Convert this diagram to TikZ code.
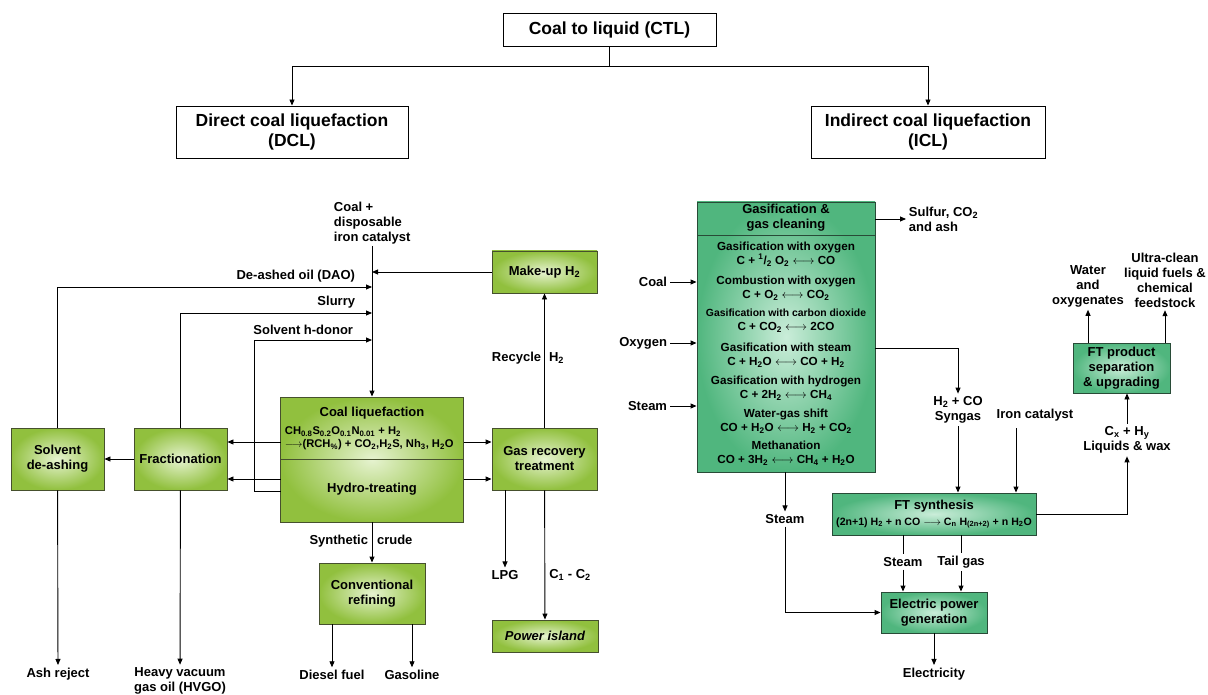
\documentclass[tikz,border=0pt]{standalone}
\usepackage{fontspec}
\setmainfont{Liberation Sans}
\usetikzlibrary{arrows.meta}
\definecolor{dclout}{RGB}{145,192,62}
\definecolor{dclin}{RGB}{230,243,208}
\definecolor{dcldraw}{RGB}{70,80,45}
\definecolor{iclout}{RGB}{80,182,126}
\definecolor{iclin}{RGB}{202,237,217}
\definecolor{icldraw}{RGB}{40,75,55}
\begin{document}
\begin{tikzpicture}[x=1pt,y=-1pt,>={Triangle[length=6pt,width=5pt]},line width=.9pt,
every node/.style={font=\bfseries\fontsize{13}{15}\selectfont,inner sep=2.5pt},
tb/.style={draw,fill=white,align=center,font=\bfseries\fontsize{17.5}{20}\selectfont},
db/.style={draw=dcldraw,shading=radial,inner color=dclin,outer color=dclout,align=center},
ib/.style={draw=icldraw,shading=radial,inner color=iclin,outer color=iclout,align=center},
eq/.style={align=center,font=\bfseries\fontsize{11.7}{14}\selectfont}]
\useasboundingbox (0,0) rectangle (1208,695);
% top level
\node[tb,minimum width=213pt,minimum height=33pt] (ctl) at (609.5,29.5) {Coal to liquid (CTL)};
\node[tb,minimum width=232pt,minimum height=52pt] (dcl) at (292,132) {Direct coal liquefaction\\(DCL)};
\node[tb,minimum width=234pt,minimum height=52pt] (icl) at (928,132) {Indirect coal liquefaction\\(ICL)};
\coordinate (fork) at (609.5,66);
\draw (ctl)--(fork);
\draw[->] (fork)-|(dcl.north);
\draw[->] (fork)-|(icl.north);
% direct liquefaction
\node[anchor=north west,align=left] (coal) at (331,199) {Coal +\\disposable\\iron catalyst};
\node[db,minimum width=183pt,minimum height=125pt] (liq) at (372,459.5) {};
\draw[dcldraw] (liq.west)--(liq.east);
\node (liqt) at (372,413) {Coal liquefaction};
\node[anchor=west,align=left,font=\bfseries\fontsize{11.2}{13}\selectfont] (liqeq) at (282,438.5) {CH\textsubscript{0.8}S\textsubscript{0.2}O\textsubscript{0.1}N\textsubscript{0.01} + H\textsubscript{2}\\$\longrightarrow$(RCH\textsubscript{\%}) + CO\textsubscript{2},H\textsubscript{2}S, Nh\textsubscript{3}, H\textsubscript{2}O};
\node (hydro) at (372,489) {Hydro-treating};
\node[db,minimum width=105pt,minimum height=42pt] (makeup) at (544.5,272) {Make-up H\textsubscript{2}};
\node[db,minimum width=93pt,minimum height=62pt] (sda) at (57.5,459) {Solvent\\de-ashing};
\node[db,minimum width=93pt,minimum height=62pt] (frac) at (180.5,459) {Fractionation};
\node[db,minimum width=105pt,minimum height=62pt] (gasrec) at (544.5,459) {Gas recovery\\treatment};
\node[db,minimum width=106pt,minimum height=61pt] (conv) at (372,593.5) {Conventional\\refining};
\node[db,minimum width=106pt,minimum height=32pt,font=\bfseries\itshape\fontsize{13}{15}\selectfont] (power) at (545,636) {Power island};
\node[anchor=east] (daot) at (358,276) {De-ashed oil (DAO)};
\node[anchor=east] (slurryt) at (358,302) {Slurry};
\node[anchor=east] (donort) at (356,330) {Solvent h-donor};
\node (recyt) at (528,358) {Recycle\hspace{8pt}H\textsubscript{2}};
\node (crudet) at (361,541) {Synthetic\hspace{9pt}crude};
\node (lpg) at (505,575) {LPG};
\node (c12) at (570,575) {C\textsubscript{1} - C\textsubscript{2}};
\node (ash) at (58,674) {Ash reject};
\node[align=center] (hvgo) at (180,681) {Heavy vacuum\\gas oil (HVGO)};
\node (diesel) at (332,675) {Diesel fuel};
\node (gasoline) at (412,675) {Gasoline};
\coordinate (feed) at (372,246);
\coordinate (dao) at (372,287);
\coordinate (slurry) at (372,313);
\coordinate (donor) at (372,340);
\coordinate (lo1) at (280.5,442);
\coordinate (lo2) at (280.5,479);
\coordinate (lo3) at (280.5,491);
\coordinate (ro1) at (463.5,442);
\coordinate (ro2) at (463.5,479);
\draw[->] (feed)--(liq);
\draw[->] (makeup)--(makeup-|feed);
\draw[->] (sda.north)|-(dao);
\draw[->] (frac.north)|-(slurry);
\draw[->] (lo3)-|(254,340)--(donor);
\draw[->] (lo1)--(lo1-|frac.east);
\draw[->] (lo2)--(lo2-|frac.east);
\draw[->] (frac)--(sda);
\draw[->] (ro1)--(ro1-|gasrec.west);
\draw[->] (ro2)--(ro2-|gasrec.west);
\draw[->] (gasrec)--(makeup);
\draw[->] (lpg|-gasrec.south)--(lpg);
\draw[->] (gasrec)--(power);
\draw[->] (liq)--(conv);
\draw[->] (sda)--(ash);
\draw[->] (frac)--(hvgo);
\draw[->] (diesel|-conv.south)--(diesel);
\draw[->] (gasoline|-conv.south)--(gasoline);
% indirect liquefaction
\node[ib,minimum width=178pt,minimum height=270pt] (gas) at (786,337) {};
\draw[icldraw] (697,235)--(875,235);
\node[align=center] (gast) at (786,218) {Gasification \&\\gas cleaning};
\node[eq] (g1) at (786,254) {Gasification with oxygen\\C + \textsuperscript{1}/\textsubscript{2} O\textsubscript{2} $\longleftrightarrow$ CO};
\node[eq] (g2) at (786,288) {Combustion with oxygen\\C + O\textsubscript{2} $\longleftrightarrow$ CO\textsubscript{2}};
\node[eq] (g3) at (786,321) {{\fontsize{10.4}{14}\selectfont Gasification with carbon dioxide}\\C + CO\textsubscript{2} $\longleftrightarrow$ 2CO};
\node[eq] (g4) at (786,355.5) {Gasification with steam\\C + H\textsubscript{2}O $\longleftrightarrow$ CO + H\textsubscript{2}};
\node[eq] (g5) at (786,388.5) {Gasification with hydrogen\\C + 2H\textsubscript{2} $\longleftrightarrow$ CH\textsubscript{4}};
\node[eq] (g6) at (786,421.5) {Water-gas shift\\CO + H\textsubscript{2}O $\longleftrightarrow$ H\textsubscript{2} + CO\textsubscript{2}};
\node[eq] (g7) at (786,453.5) {Methanation\\CO + 3H\textsubscript{2} $\longleftrightarrow$ CH\textsubscript{4} + H\textsubscript{2}O};
\node[ib,minimum width=204pt,minimum height=42pt] (ft) at (934,514) {FT synthesis\\[1pt]{\fontsize{10.6}{12}\selectfont (2n+1) H\textsubscript{2} + n CO $\longrightarrow$ C\textsubscript{n} H\textsubscript{(2n+2)} + n H\textsubscript{2}O}};
\node[ib,minimum width=106pt,minimum height=41pt] (ep) at (934,612.5) {Electric power\\generation};
\node[ib,minimum width=97pt,minimum height=50pt] (ftsep) at (1121.5,368) {FT product\\separation\\\& upgrading};
\node[anchor=west,align=left] (sulfur) at (906,219) {Sulfur, CO\textsubscript{2}\\and ash};
\node[anchor=east] (coalin) at (670,282) {Coal};
\node[anchor=east] (oxyin) at (670,343) {Oxygen};
\node[anchor=east] (steamin) at (670,406) {Steam};
\node[align=center] (syngas) at (958,410) {H\textsubscript{2} + CO\\Syngas};
\node (iron) at (1035,415) {Iron catalyst};
\node (steamout) at (785,519) {Steam};
\node (steamft) at (903,562) {Steam};
\node (tail) at (961,562) {Tail gas};
\node (elec) at (934,674) {Electricity};
\node[align=center] (wax) at (1127,440) {C\textsubscript{x} + H\textsubscript{y}\\Liquids \& wax};
\node[align=center] (water) at (1088,286) {Water\\and\\oxygenates};
\node[align=center] (fuels) at (1165,280) {Ultra-clean\\liquid fuels \&\\chemical\\feedstock};
\coordinate (syn) at (875,348);
\coordinate (ironin) at (1016,428);
\draw[->] (sulfur.west-|gas.east)--(sulfur.west);
\draw[->] (coalin)--(coalin-|gas.west);
\draw[->] (oxyin)--(oxyin-|gas.west);
\draw[->] (steamin)--(steamin-|gas.west);
\draw[->] (syn)-|(syngas);
\draw[->] (syngas)--(syngas|-ft.north);
\draw[->] (ironin)--(ironin|-ft.north);
\draw[->] (gas.south-|steamout)--(steamout);
\draw[->] (steamout)|-(ep);
\draw (steamft|-ft.south)--(steamft);
\draw[->] (steamft)--(steamft|-ep.north);
\draw (tail|-ft.south)--(tail);
\draw[->] (tail)--(tail|-ep.north);
\draw[->] (ep)--(elec);
\draw[->] (ft.east)-|(wax);
\draw[->] (wax)--(wax|-ftsep.south);
\draw[->] (water|-ftsep.north)--(water);
\draw[->] (fuels|-ftsep.north)--(fuels);
\end{tikzpicture}
\end{document}
